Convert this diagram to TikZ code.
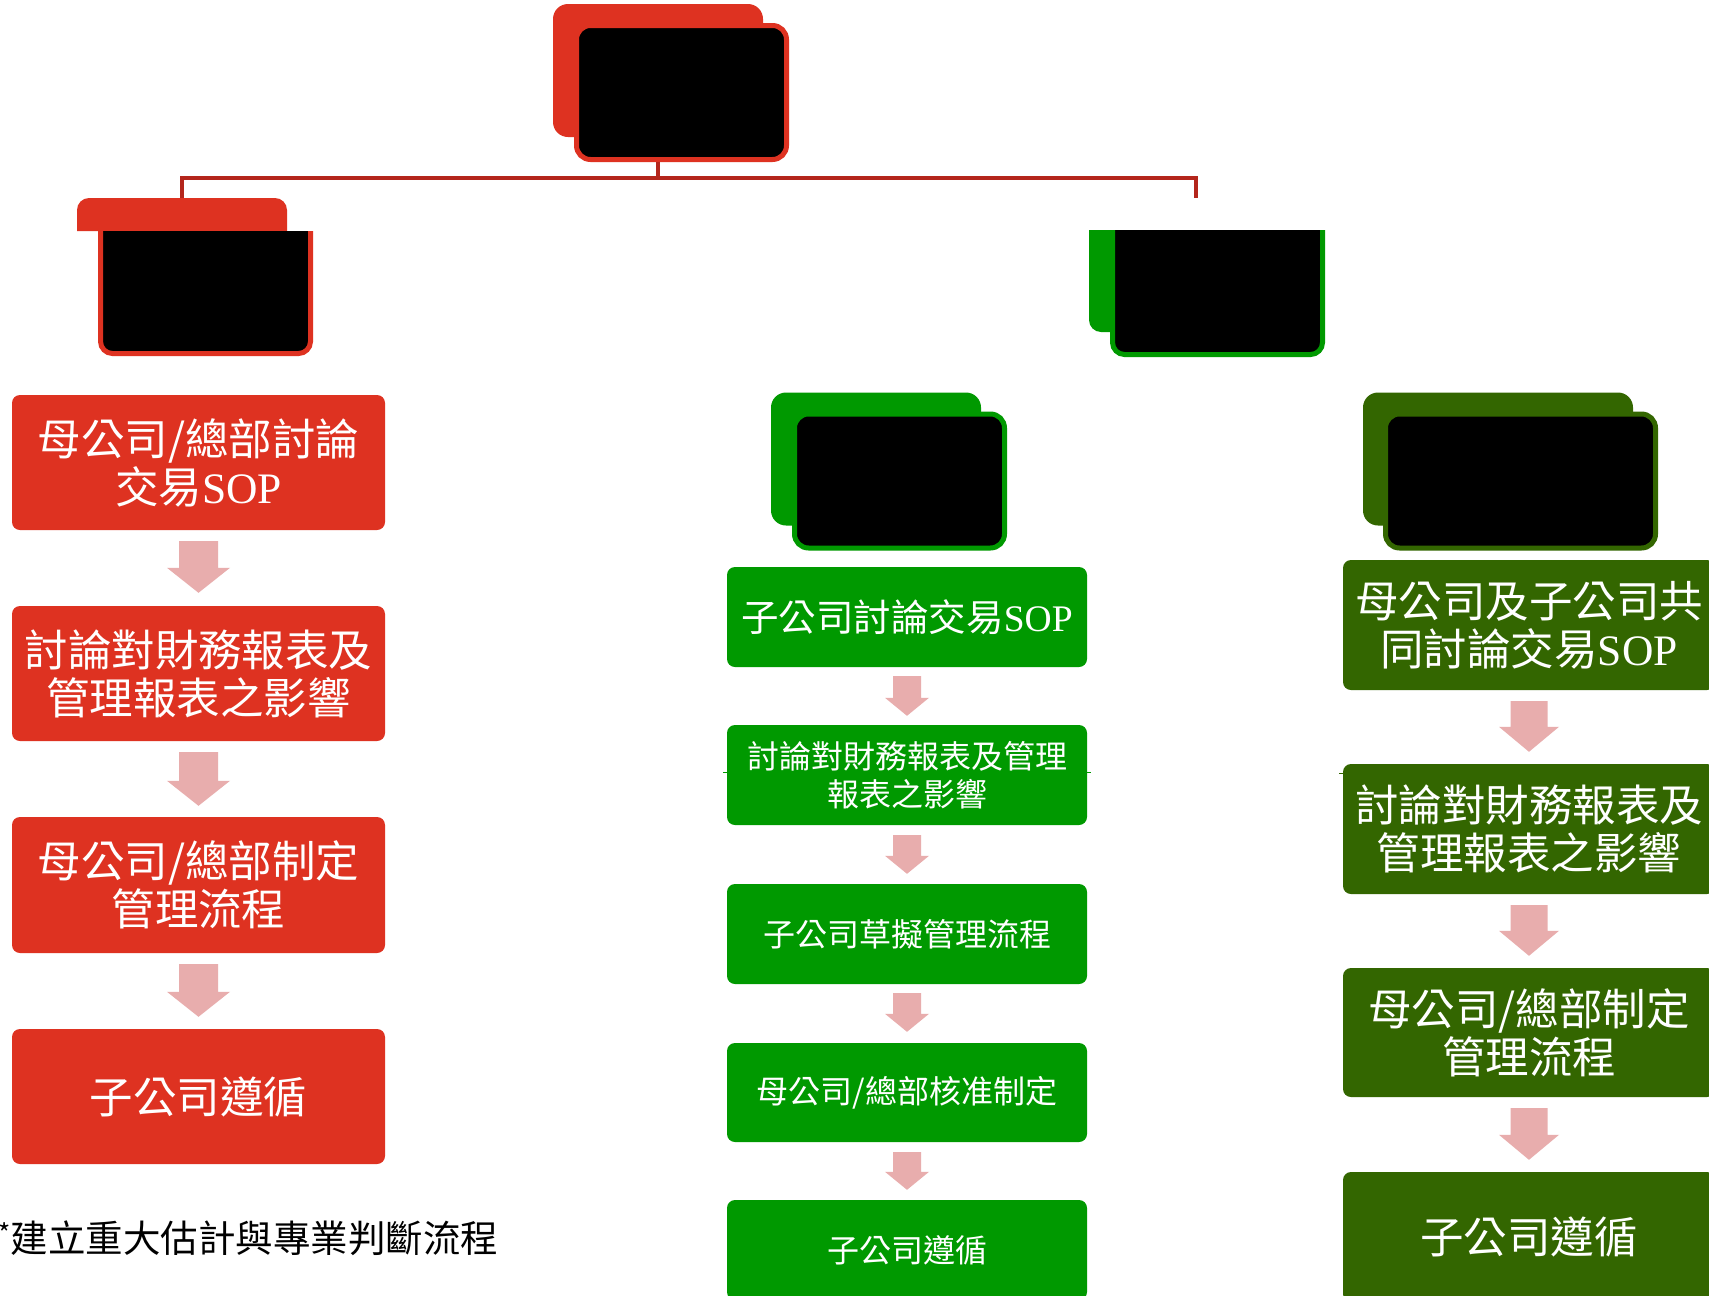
\documentclass[tikz,border=0pt]{standalone}
\usepackage{fontspec}
\setmainfont{Noto Sans CJK TC}
\newfontfamily\latserif{Liberation Serif}
\usetikzlibrary{calc}
\definecolor{cred}{RGB}{222,50,33}
\definecolor{ctree}{RGB}{180,38,28}
\definecolor{cgreen}{RGB}{0,153,0}
\definecolor{cdgreen}{RGB}{51,102,0}
\definecolor{cpink}{RGB}{232,173,173}
\newcommand\SOP{{\latserif SOP}}
\newcommand\flowarrow[7]{%
  \fill[cpink] let \p1=(#1.south), \p2=(#2.north) in
   (\x1-#3pt,\y1-#6pt) -- (\x1+#3pt,\y1-#6pt) -- (\x1+#3pt,\y2+#7pt+#5pt) -- (\x1+#4pt,\y2+#7pt+#5pt)
   -- (\x1,\y2+#7pt) -- (\x1-#4pt,\y2+#7pt+#5pt) -- (\x1-#3pt,\y2+#7pt+#5pt) -- cycle;}
\tikzset{
  flowbox/.style={rounded corners=8pt, inner sep=0pt, align=center, text=white, minimum width=#1},
  bigtxt/.style={font=\fontsize{43.5}{48}\selectfont},
  midtxt/.style={font=\fontsize{37.5}{42}\selectfont},
  smalltxt/.style={font=\fontsize{32}{38}\selectfont},
  headfront/.style={fill=black, draw=#1, line width=5pt, rounded corners=14pt, inner sep=0pt, minimum width=210pt, minimum height=134pt},
  headback/.style={fill=#1, rounded corners=15pt, inner sep=0pt, minimum width=210pt, minimum height=133pt},
  tree/.style={ctree, line width=4pt}
}
\begin{document}
\begin{tikzpicture}[x=1pt,y=-1pt]
\useasboundingbox[fill=white] (0,0) rectangle (1709,1296);

% ---- top header
\node[headback=cred] (topback) at (658,70.5) {};
\node[headfront=cred] (top) at (681.5,92.5) {};

% ---- left header (clipped top)
\fill[cred] (77,231) [rounded corners=12pt] -- (77,198) -- (287,198) [sharp corners] -- (287,231) -- cycle;
\coordinate (hltab) at (182,198);
\fill[black] (100.5,231) [rounded corners=12pt] -- (100.5,353.5) -- (310.5,353.5) [sharp corners] -- (310.5,231) -- cycle;
\draw[cred, line width=5pt] (100.5,231) [rounded corners=12pt] -- (100.5,353.5) -- (310.5,353.5) [sharp corners] -- (310.5,231);
\node[inner sep=0pt, minimum width=205pt, minimum height=104pt] (hl) at (205.5,292) {};

% ---- right header (clipped top)
\fill[cgreen] (1089,230) [rounded corners=12pt] -- (1089,332) -- (1200,332) [sharp corners] -- (1200,230) -- cycle;
\fill[black] (1112.5,230) [rounded corners=12pt] -- (1112.5,354.5) -- (1322.5,354.5) [sharp corners] -- (1322.5,230) -- cycle;
\draw[cgreen, line width=5pt] (1112.5,230) [rounded corners=12pt] -- (1112.5,354.5) -- (1322.5,354.5) [sharp corners] -- (1322.5,230);
\coordinate (hrend) at (1196,198);

% ---- tree connector
\draw[tree] (topback.south |- top.south) -- ++(0,16) coordinate (j);
\draw[tree] (hltab) |- (j) -| (hrend);

% ---- middle & right headers
\node[headback=cgreen] (mback) at (876,459) {};
\node[headfront=cgreen] (mhead) at (899.5,481) {};
\node[headback=cdgreen, minimum width=270pt] (rback) at (1498,459) {};
\node[headfront=cdgreen, minimum width=270pt] (rhead) at (1520.5,481) {};

% ---- left column
\node[flowbox=373pt, fill=cred, minimum height=135pt, bigtxt] (l1) at (198.5,462.5) {母公司/總部討論\\交易\SOP};
\node[flowbox=373pt, fill=cred, minimum height=135pt, bigtxt] (l2) at (198.5,673.5) {討論對財務報表及\\管理報表之影響};
\node[flowbox=373pt, fill=cred, minimum height=136pt, bigtxt] (l3) at (198.5,885) {母公司/總部制定\\管理流程};
\node[flowbox=373pt, fill=cred, minimum height=135pt, bigtxt] (l4) at (198.5,1096.5) {子公司遵循};
\flowarrow{l1}{l2}{19.5}{31.5}{25}{11}{13}
\flowarrow{l2}{l3}{19.5}{31.5}{25}{11}{11}
\flowarrow{l3}{l4}{19.5}{31.5}{25}{11}{12}

% ---- middle column
\draw[cgreen, line width=0.8pt] (723,772) -- (1091,772);
\node[flowbox=360pt, fill=cgreen, minimum height=100pt, midtxt] (m1) at (907,617) {子公司討論交易\SOP};
\node[flowbox=360pt, fill=cgreen, minimum height=100pt, smalltxt] (m2) at (907,775) {討論對財務報表及管理\\報表之影響};
\node[flowbox=360pt, fill=cgreen, minimum height=100pt, smalltxt] (m3) at (907,934) {子公司草擬管理流程};
\node[flowbox=360pt, fill=cgreen, minimum height=99pt, smalltxt] (m4) at (907,1092.5) {母公司/總部核准制定};
\node[flowbox=360pt, fill=cgreen, minimum height=100pt, smalltxt] (m5) at (907,1250) {子公司遵循};
\flowarrow{m1}{m2}{14}{22}{18}{9}{9}
\flowarrow{m2}{m3}{14}{22}{18}{10}{10}
\flowarrow{m3}{m4}{14}{22}{18}{9}{11}
\flowarrow{m4}{m5}{14}{22}{18}{10}{10}

% ---- right column
\draw[cdgreen, line width=0.8pt] (1339,773) -- (1346,773);
\node[flowbox=372pt, fill=cdgreen, minimum height=130pt, bigtxt] (r1) at (1529,625) {母公司及子公司共\\同討論交易\SOP};
\node[flowbox=372pt, fill=cdgreen, minimum height=130pt, bigtxt] (r2) at (1529,829) {討論對財務報表及\\管理報表之影響};
\node[flowbox=372pt, fill=cdgreen, minimum height=129pt, bigtxt] (r3) at (1529,1032.5) {母公司/總部制定\\管理流程};
\node[flowbox=372pt, fill=cdgreen, minimum height=130pt, bigtxt] (r4) at (1529,1237) {子公司遵循};
\flowarrow{r1}{r2}{18.5}{30}{25}{11}{12}
\flowarrow{r2}{r3}{18.5}{30}{25}{11}{12}
\flowarrow{r3}{r4}{18.5}{30}{25}{11}{12}

% ---- footnote
\node[anchor=west, inner sep=0pt, font=\fontsize{37.5}{40}\selectfont] (note) at (-2,1238) {\textsuperscript{*}建立重大估計與專業判斷流程};
\end{tikzpicture}
\end{document}
